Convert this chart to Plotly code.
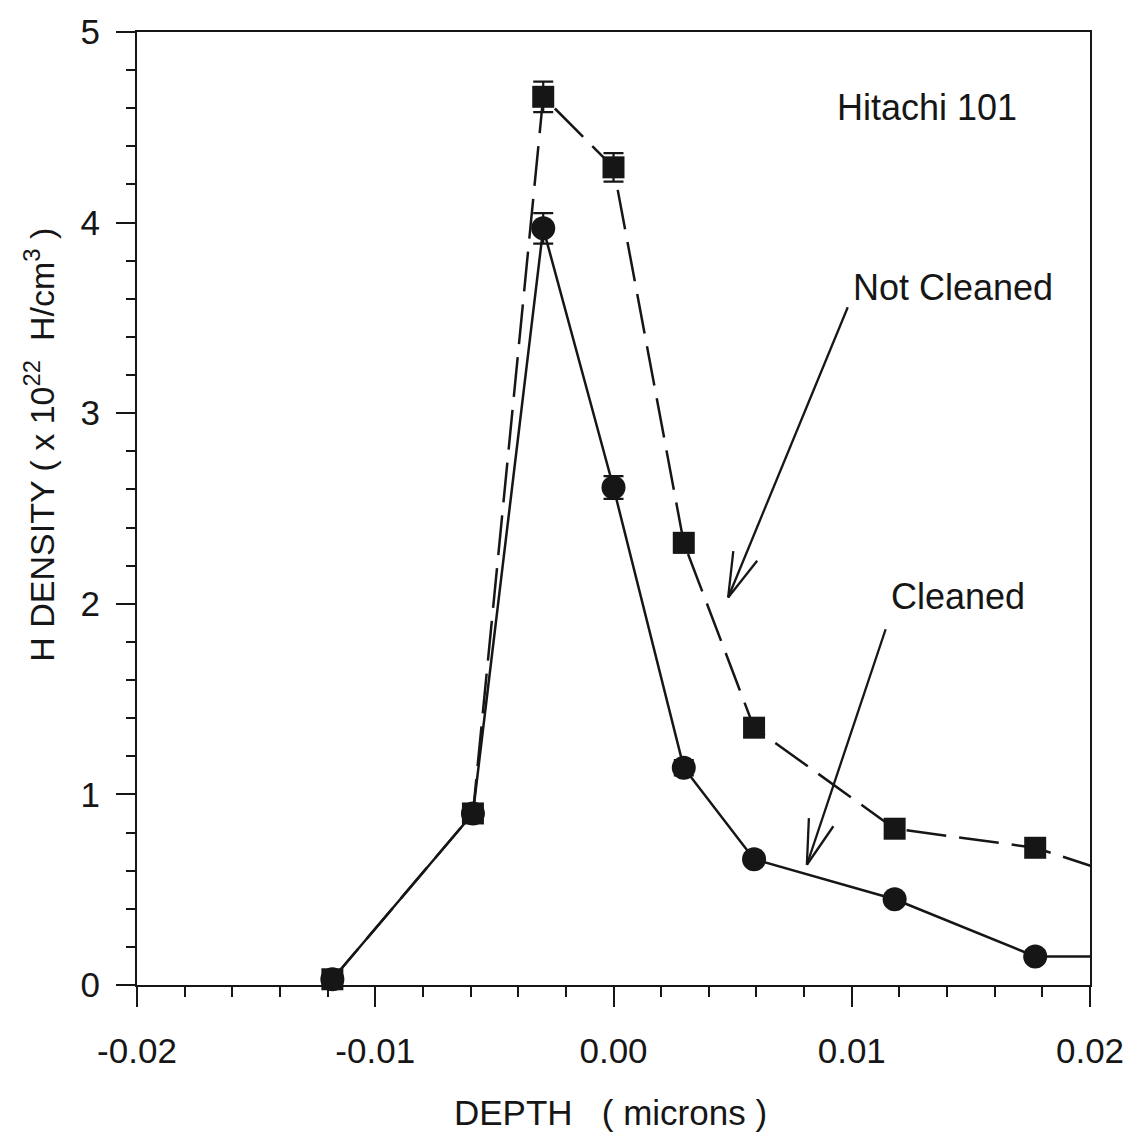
import math
import plotly.graph_objects as go

# ---------------- data ----------------
depth = [-0.0118, -0.0059, -0.00295, 0.0, 0.00295, 0.0059, 0.0118, 0.0177, 0.0236]
cleaned = [0.03, 0.90, 3.97, 2.61, 1.14, 0.66, 0.45, 0.15, 0.15]
cleaned_err = [0.03, 0.04, 0.08, 0.06, 0.04, 0.03, 0.03, 0.03, 0.03]
not_cleaned = [0.03, 0.90, 4.66, 4.29, 2.32, 1.35, 0.82, 0.72, 0.48]
not_cleaned_err = [0.03, 0.04, 0.08, 0.075, 0.05, 0.04, 0.03, 0.03, 0.03]
x_ticks = [-0.02, -0.01, 0.0, 0.01, 0.02]
x_ticklabels = ["-0.02", "-0.01", "0.00", "0.01", "0.02"]
y_ticks = [0, 1, 2, 3, 4, 5]

# ---------------- layout constants ----------------
W, H = 1136, 1137
ML, MR, MT, MB = 137, 43, 26, 152
XR = [-0.02, 0.02]
YR = [0, 5]
PW, PH = W - ML - MR, H - MT - MB
INK = "#161616"
FONT = "Liberation Sans, Arial, sans-serif"

n_vis = len(depth) - 1  # last point lies beyond the axis range (line only)

fig = go.Figure()
# lines (clipped at the frame)
fig.add_trace(go.Scatter(x=depth, y=cleaned, mode="lines",
                         line=dict(color=INK, width=2.5), showlegend=False))
fig.add_trace(go.Scatter(x=depth, y=not_cleaned, mode="lines",
                         line=dict(color=INK, width=2.5, dash="40px,13px"),
                         showlegend=False))
# markers with error bars
fig.add_trace(go.Scatter(x=depth[:n_vis], y=cleaned[:n_vis], mode="markers",
                         marker=dict(symbol="circle", size=24, color=INK),
                         error_y=dict(type="data", array=cleaned_err[:n_vis],
                                      color=INK, thickness=2.2, width=10),
                         cliponaxis=False, showlegend=False))
fig.add_trace(go.Scatter(x=depth[:n_vis], y=not_cleaned[:n_vis], mode="markers",
                         marker=dict(symbol="square", size=22, color=INK),
                         error_y=dict(type="data", array=not_cleaned_err[:n_vis],
                                      color=INK, thickness=2.2, width=10),
                         cliponaxis=False, showlegend=False))


# ---------------- helper for open arrows ----------------
def to_px(x, y):
    px = ML + (x - XR[0]) / (XR[1] - XR[0]) * PW
    py = MT + PH - (y - YR[0]) / (YR[1] - YR[0]) * PH
    return px, py


def to_data(px, py):
    x = XR[0] + (px - ML) / PW * (XR[1] - XR[0])
    y = YR[0] + (MT + PH - py) / PH * (YR[1] - YR[0])
    return x, y


def open_arrow(tail, tip, head_len=47, head_ang=16):
    shapes = []
    tx, ty = to_px(*tail)
    hx, hy = to_px(*tip)
    shapes.append(dict(type="line", xref="x", yref="y", x0=tail[0], y0=tail[1],
                       x1=tip[0], y1=tip[1], line=dict(color=INK, width=2.3)))
    ang = math.atan2(ty - hy, tx - hx)
    for s in (-1, 1):
        a = ang + s * math.radians(head_ang)
        bx, by = hx + head_len * math.cos(a), hy + head_len * math.sin(a)
        dx, dy = to_data(bx, by)
        shapes.append(dict(type="line", xref="x", yref="y", x0=tip[0], y0=tip[1],
                           x1=dx, y1=dy, line=dict(color=INK, width=2.3)))
    return shapes


shapes = []
shapes += open_arrow(to_data(850, 303), to_data(730, 595))
shapes += open_arrow(to_data(888, 627), to_data(809, 864))

LBL = dict(size=36, color=INK, family=FONT)
annotations = [
    dict(text="Hitachi 101", xref="x", yref="y", x=to_data(929, 102)[0], y=to_data(929, 102)[1],
         showarrow=False, font=LBL),
    dict(text="Not Cleaned", xref="x", yref="y", x=to_data(956, 283)[0], y=to_data(956, 283)[1],
         showarrow=False, font=LBL),
    dict(text="Cleaned", xref="x", yref="y", x=to_data(961, 594)[0], y=to_data(961, 594)[1],
         showarrow=False, font=LBL),
    dict(text="DEPTH\u00a0\u00a0\u00a0( microns )", xref="paper", yref="paper",
         x=(612 - ML) / PW, y=(MT + PH - 1113) / PH, xanchor="center", yanchor="middle",
         showarrow=False, font=dict(size=35, color=INK, family=FONT)),
    dict(text="H DENSITY ( x 10<sup>22</sup>\u00a0\u00a0H/cm<sup>3</sup>\u00a0)",
         xref="paper", yref="paper", textangle=-90,
         x=(39 - ML) / PW, y=(MT + PH - 441) / PH, xanchor="center", yanchor="middle",
         showarrow=False, font=dict(size=34, color=INK, family=FONT)),
]

fig.update_layout(
    width=W, height=H,
    margin=dict(l=ML, r=MR, t=MT, b=MB, pad=0),
    paper_bgcolor="white", plot_bgcolor="white",
    font=dict(family=FONT, color=INK, size=35),
    shapes=shapes, annotations=annotations,
    showlegend=False,
)
fig.update_xaxes(
    range=XR, tickvals=x_ticks, ticktext=x_ticklabels,
    showgrid=False, zeroline=False,
    showline=True, linecolor=INK, linewidth=2, mirror=True,
    ticks="outside", ticklen=20, tickwidth=2, tickcolor=INK,
    ticklabelstandoff=14,
    tickfont=dict(size=35, color=INK, family=FONT),
    minor=dict(dtick=0.002, ticks="outside", ticklen=10, tickwidth=2, tickcolor=INK, showgrid=False),
)
fig.update_yaxes(
    range=YR, tickvals=y_ticks,
    showgrid=False, zeroline=False,
    showline=True, linecolor=INK, linewidth=2, mirror=True,
    ticks="outside", ticklen=19, tickwidth=2, tickcolor=INK,
    ticklabelstandoff=9,
    tickfont=dict(size=35, color=INK, family=FONT),
    minor=dict(dtick=0.2, ticks="outside", ticklen=9, tickwidth=2, tickcolor=INK, showgrid=False),
)

fig.write_html("out.html")
